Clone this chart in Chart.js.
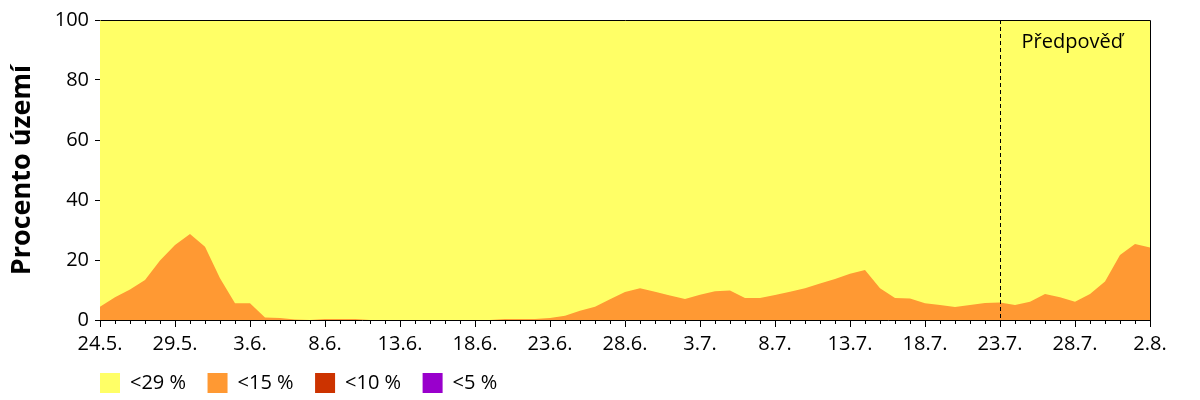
<!DOCTYPE html>
<html>
<head>
<meta charset="utf-8">
<script src="https://cdn.jsdelivr.net/npm/chart.js@4"></script>
<style>
html,body{margin:0;padding:0;background:#fff;}
#wrap{width:1200px;height:400px;position:relative;}
</style>
</head>
<body>
<div id="wrap"><canvas id="c" width="1200" height="400"></canvas></div>
<script>
const dates = ['24.5.','25.5.','26.5.','27.5.','28.5.','29.5.','30.5.','31.5.','1.6.','2.6.','3.6.','4.6.','5.6.','6.6.','7.6.','8.6.','9.6.','10.6.','11.6.','12.6.','13.6.','14.6.','15.6.','16.6.','17.6.','18.6.','19.6.','20.6.','21.6.','22.6.','23.6.','24.6.','25.6.','26.6.','27.6.','28.6.','29.6.','30.6.','1.7.','2.7.','3.7.','4.7.','5.7.','6.7.','7.7.','8.7.','9.7.','10.7.','11.7.','12.7.','13.7.','14.7.','15.7.','16.7.','17.7.','18.7.','19.7.','20.7.','21.7.','22.7.','23.7.','24.7.','25.7.','26.7.','27.7.','28.7.','29.7.','30.7.','31.7.','1.8.','2.8.'];

const tickLabels = ['24.5.','29.5.','3.6.','8.6.','13.6.','18.6.','23.6.','28.6.','3.7.','8.7.','13.7.','18.7.','23.7.','28.7.','2.8.'];

const yTicks = [0,20,40,60,80,100];

const seriesNames = ['<29 %','<15 %','<10 %','<5 %'];

const below29 = [100,100,100,100,100,100,100,100,100,100,100,100,100,100,100,100,100,100,100,100,100,100,100,100,100,100,100,100,100,100,100,100,100,100,100,100,100,100,100,100,100,100,100,100,100,100,100,100,100,100,100,100,100,100,100,100,100,100,100,100,100,100,100,100,100,100,100,100,100,100,100];

const below15 = [4.4,7.6,10.2,13.3,19.8,25.0,28.7,24.4,13.9,5.6,5.6,0.8,0.7,0.2,0,0.3,0.3,0.3,0,0,0,0,0,0,0,0,0,0.3,0.3,0.3,0.7,1.4,3.1,4.4,6.9,9.3,10.6,9.4,8.2,7.0,8.4,9.6,9.8,7.3,7.3,8.3,9.4,10.6,12.2,13.7,15.4,16.7,10.6,7.3,7.2,5.6,5.0,4.3,5.0,5.7,5.8,5.0,6.1,8.7,7.6,6.1,8.7,12.8,21.7,25.3,24.2];

const below10 = [0,0,0,0,0,0,0,0,0,0,0,0,0,0,0,0,0,0,0,0,0,0,0,0,0,0,0,0,0,0,0,0,0,0,0,0,0,0,0,0,0,0,0,0,0,0,0,0,0,0,0,0,0,0,0,0,0,0,0,0,0,0,0,0,0,0,0,0,0,0,0];

const below5 = [0,0,0,0,0,0,0,0,0,0,0,0,0,0,0,0,0,0,0,0,0,0,0,0,0,0,0,0,0,0,0,0,0,0,0,0,0,0,0,0,0,0,0,0,0,0,0,0,0,0,0,0,0,0,0,0,0,0,0,0,0,0,0,0,0,0,0,0,0,0,0];

const forecastStart = '23.7.';
const forecastText = 'Předpověď';
const yTitle = 'Procento území';

const colors = ['#FFFF66','#FF9933','#CC3300','#9900CC'];
const FONT = '"Open Sans", "DejaVu Sans", sans-serif';

function ds(label, data, color, order){
  return {label, data, backgroundColor: color, borderColor: color, borderWidth: 0,
    pointRadius: 0, pointHoverRadius: 0, fill: 'origin', tension: 0, order};
}

const extras = {
  id: 'extras',
  afterLayout(chart){
    const lg = chart.legend;
    const pad = lg.options.labels.padding;
    lg.left = 100 - pad; lg.right = lg.left + 1000; lg.width = 1000;
    lg.top = 373 - pad; lg.bottom = 400; lg.height = lg.bottom - lg.top;
  },
  afterDatasetsDraw(chart){
    const ctx = chart.ctx, a = chart.chartArea, x = chart.scales.x;
    ctx.save();
    const fx = Math.round(x.getPixelForValue(dates.indexOf(forecastStart))) + 0.5;
    ctx.strokeStyle = '#000'; ctx.lineWidth = 1; ctx.setLineDash([4,3]);
    ctx.beginPath(); ctx.moveTo(fx, a.top); ctx.lineTo(fx, a.bottom); ctx.stroke();
    ctx.setLineDash([]);
    ctx.fillStyle = '#000';
    ctx.font = '20px ' + FONT;
    ctx.textBaseline = 'middle'; ctx.textAlign = 'left';
    ctx.fillText(forecastText, fx + 21, 42);
    ctx.strokeStyle = '#000';
    ctx.beginPath();
    ctx.moveTo(Math.round(a.left)+0.5, Math.round(a.top)+0.5);
    ctx.lineTo(Math.round(a.right)+0.5, Math.round(a.top)+0.5);
    ctx.lineTo(Math.round(a.right)+0.5, Math.round(a.bottom)+0.5);
    ctx.stroke();
    ctx.beginPath();
    for (let i = 0; i < dates.length; i++){
      if (tickLabels.includes(dates[i])) continue;
      const px = Math.round(x.getPixelForValue(i)) + 0.5;
      ctx.moveTo(px, a.bottom); ctx.lineTo(px, a.bottom + 4);
    }
    ctx.stroke();
    ctx.restore();
  }
};

new Chart(document.getElementById('c'), {
  type: 'line',
  data: {
    labels: dates,
    datasets: [
      ds(seriesNames[0], below29, colors[0], 4),
      ds(seriesNames[1], below15, colors[1], 3),
      ds(seriesNames[2], below10, colors[2], 2),
      ds(seriesNames[3], below5, colors[3], 1)
    ]
  },
  options: {
    responsive: false,
    animation: false,
    events: [],
    layout: { padding: { top: 20, right: 50, left: 0, bottom: 0 } },
    plugins: {
      tooltip: { enabled: false },
      legend: {
        position: 'bottom',
        align: 'start',
        maxHeight: 1,
        labels: {
          boxWidth: 20, boxHeight: 20, padding: 21.5,
          color: '#000',
          font: { family: FONT, size: 20 },
          sort: (a, b) => a.datasetIndex - b.datasetIndex
        }
      }
    },
    scales: {
      x: {
        type: 'category',
        offset: false,
        afterFit(s){ s.height = 80 - (s.chart.legend ? s.chart.legend.height : 0); },
        border: { display: true, color: '#000', width: 1 },
        grid: { drawOnChartArea: false, tickLength: 7, tickColor: (c) => (c.tick && tickLabels.includes(dates[c.index])) ? '#000' : 'rgba(0,0,0,0)' },
        ticks: {
          autoSkip: false, maxRotation: 0, minRotation: 0, padding: 5,
          color: '#000', font: { family: FONT, size: 20 },
          callback: (v, i) => tickLabels.includes(dates[i]) ? dates[i] : ''
        }
      },
      y: {
        min: 0, max: 100,
        afterFit(s){ s.width = 100; },
        afterBuildTicks(s){ s.ticks = yTicks.map(v => ({value: v})); },
        border: { display: true, color: '#000', width: 1 },
        grid: { drawOnChartArea: false, tickLength: 5, tickColor: '#000' },
        title: { display: true, text: yTitle, color: '#000', font: { family: FONT, size: 27, weight: 'bold' }, padding: { top: 6, bottom: 0 } },
        ticks: { padding: 6, color: '#000', font: { family: FONT, size: 20 } }
      }
    }
  },
  plugins: [extras]
});
</script>
</body>
</html>
